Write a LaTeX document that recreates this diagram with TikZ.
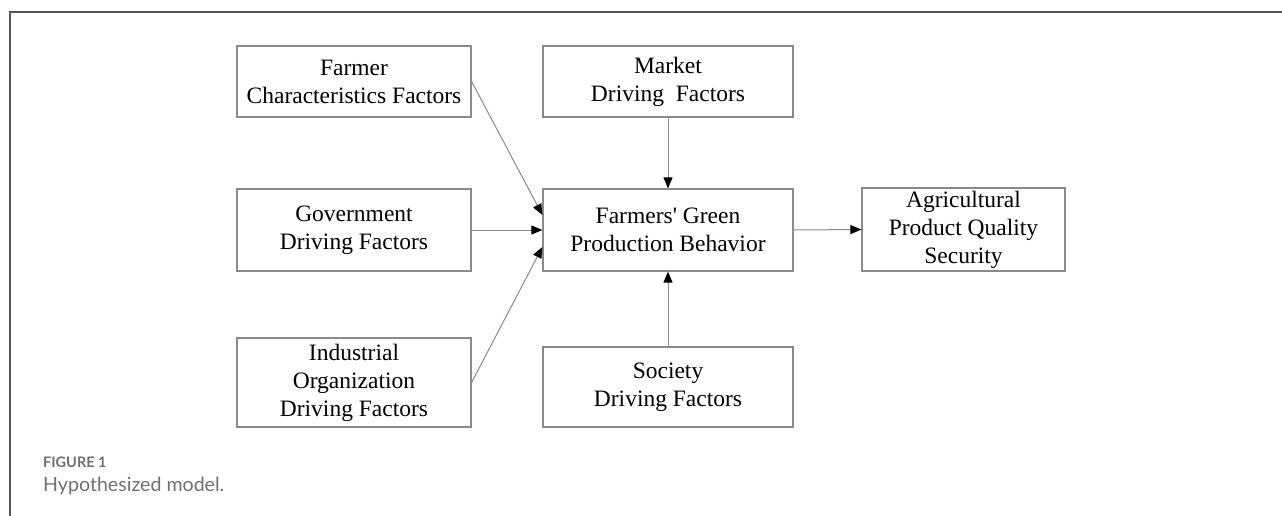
\documentclass[tikz,border=0pt]{standalone}
\usepackage{fontspec}
\setmainfont[Ligatures=TeXOff]{Liberation Serif}
\newfontfamily\capfont{Lato}
\usetikzlibrary{arrows.meta}
\definecolor{boxgray}{HTML}{8A8A8A}
\definecolor{framegray}{HTML}{555555}
\definecolor{capgray}{HTML}{707070}
\tikzset{
  fbox/.style={draw=boxgray, line width=1.2pt, inner sep=0pt, align=center,
    font=\fontsize{23.5}{28}\selectfont, text=black},
  conn/.style={draw=boxgray, line width=1pt, -{Triangle[length=11pt,width=9pt,color=black]}},
}
\begin{document}
\begin{tikzpicture}[x=1pt,y=-1pt]
\useasboundingbox (0,0) rectangle (1282,516);
\draw[framegray, line width=1.5pt] (10,516) -- (10,12) -- (1282,12);

\node[fbox, minimum width=234pt, minimum height=71pt] (far) at (354,81.5) {Farmer\\Characteristics Factors};
\node[fbox, minimum width=250pt, minimum height=71pt] (mar) at (668,81.5) {Market\\Driving\ \ Factors};
\node[fbox, minimum width=234pt, minimum height=82pt] (gov) at (354,230) {Government\\Driving Factors};
\node[fbox, minimum width=250pt, minimum height=82pt] (cen) at (668,230) {Farmers' Green\\Production Behavior};
\node[fbox, minimum width=203pt, minimum height=83pt] (agr) at (963.5,229.5) {Agricultural\\Product Quality\\Security};
\node[fbox, minimum width=234pt, minimum height=89pt] (ind) at (354,382.5) {Industrial\\Organization\\Driving Factors};
\node[fbox, minimum width=250pt, minimum height=80pt] (soc) at (668,387) {Society\\Driving Factors};

\coordinate (cenA) at ([yshift=15pt]cen.west);
\coordinate (cenB) at ([yshift=-17pt]cen.west);

\draw[conn] (far.east) -- (cenA);
\draw[conn] (gov.east) -- (cen.west);
\draw[conn] (ind.east) -- (cenB);
\draw[conn] (mar.south) -- (cen.north);
\draw[conn] (soc.north) -- (cen.south);
\draw[conn] (cen.east) -- (agr.west);

\node[anchor=west, inner sep=0pt, text=capgray, font=\capfont\bfseries\fontsize{14.5}{16}\selectfont] (fig) at (43,462) {FIGURE 1};
\node[anchor=west, inner sep=0pt, text=capgray, font=\capfont\fontsize{19.6}{22}\selectfont] (cap) at (43,486) {Hypothesized model.};
\end{tikzpicture}
\end{document}
